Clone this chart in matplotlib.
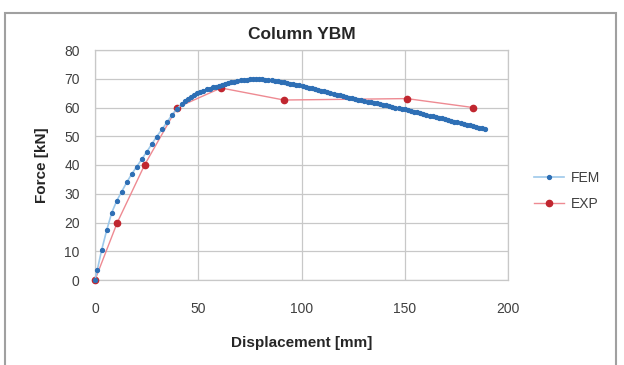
import matplotlib
matplotlib.use("Agg")
import matplotlib.pyplot as plt
from matplotlib.patches import Rectangle

plt.rcParams['font.family'] = ['Liberation Sans', 'DejaVu Sans']

title = "Column YBM"
x_label = "Displacement [mm]"
y_label = "Force [kN]"
x_ticks = [0, 50, 100, 150, 200]
y_ticks = [0, 10, 20, 30, 40, 50, 60, 70, 80]

fem_x = [0, 1.1, 3.2, 5.7, 8.1, 10.5, 12.9, 15.4, 17.8, 20.2, 22.7, 25.1, 27.5,
         29.9, 32.4, 34.8, 37.2, 39.6, 42.0,
         43.5, 45.0, 46.5, 48.0, 49.5, 51.0, 52.5, 54.0, 55.5, 57.0, 58.5, 60.0,
         61.5, 63.0, 64.5, 66.0, 67.5, 69.0, 70.5, 72.0, 73.5, 75.0, 76.5, 78.0,
         79.5, 81.0, 82.5, 84.0, 85.5, 87.0, 88.5, 90.0, 91.5, 93.0, 94.5, 96.0,
         97.5, 99.0, 100.5, 102.0, 103.5, 105.0, 106.5, 108.0, 109.5, 111.0,
         112.5, 114.0, 115.5, 117.0, 118.5, 120.0, 121.5, 123.0, 124.5, 126.0,
         127.5, 129.0, 130.5, 132.0, 133.5, 135.0, 136.5, 138.0, 139.5, 141.0,
         142.5, 144.0, 145.5, 147.0, 148.5, 150.0, 151.5, 153.0, 154.5, 156.0,
         157.5, 159.0, 160.5, 162.0, 163.5, 165.0, 166.5, 168.0, 169.5, 171.0,
         172.5, 174.0, 175.5, 177.0, 178.5, 180.0, 181.5, 183.0, 184.5, 186.0,
         187.5, 189.0]
fem_y = [0, 3.5, 10.4, 17.4, 23.4, 27.5, 30.7, 34.0, 36.9, 39.4, 42.1, 44.6, 47.3,
         49.9, 52.4, 54.8, 57.4, 59.5, 61.2,
         62.2, 63.1, 63.8, 64.4, 65.0, 65.5, 65.9, 66.3, 66.6, 67.0, 67.3, 67.6,
         67.9, 68.2, 68.5, 68.7, 69.0, 69.2, 69.4, 69.6, 69.7, 69.8, 69.9, 69.9,
         69.9, 69.8, 69.7, 69.6, 69.4, 69.2, 69.1, 68.9, 68.7, 68.5, 68.3, 68.1,
         67.9, 67.7, 67.5, 67.2, 66.9, 66.7, 66.4, 66.1, 65.8, 65.6,
         65.3, 65.0, 64.8, 64.5, 64.2, 64.0, 63.7, 63.4, 63.2, 62.9,
         62.7, 62.5, 62.3, 62.0, 61.8, 61.6, 61.4, 61.1, 60.9, 60.7,
         60.5, 60.2, 60.0, 59.8, 59.6, 59.4, 59.1, 58.8, 58.6, 58.3,
         58.0, 57.8, 57.5, 57.2, 57.0, 56.7, 56.4, 56.2, 55.9, 55.6,
         55.4, 55.1, 54.8, 54.6, 54.3, 54.0, 53.8, 53.5, 53.2, 53.0,
         52.7, 52.4]

exp_x = [0, 10.8, 24.0, 39.8, 61.0, 91.5, 151.0, 183.0]
exp_y = [0, 20.0, 40.0, 60.0, 66.8, 62.6, 63.1, 60.0]

fig = plt.figure(figsize=(6.24, 3.65), dpi=100)
fig.patches.append(Rectangle((5 / 624, -0.05), 611 / 624, 1 - 13 / 365 + 0.05,
                             transform=fig.transFigure, fill=False,
                             edgecolor='#a0a0a0', linewidth=1.5, zorder=0))

ax = fig.add_axes([95 / 624, 1 - 280 / 365, 413 / 624, 230 / 365])
ax.set_xlim(0, 200)
ax.set_ylim(0, 80)
ax.set_xticks(x_ticks)
ax.set_yticks(y_ticks)
ax.grid(True, color='#c8c8c8', linewidth=0.9)
ax.set_axisbelow(True)
for s in ax.spines.values():
    s.set_color('#c8c8c8')
    s.set_linewidth(0.9)
ax.tick_params(length=0, labelsize=10, colors='#404040')
ax.tick_params(axis='x', pad=16)
ax.tick_params(axis='y', pad=11)

ax.plot(exp_x, exp_y, color='#ee8a92', linewidth=1.0, marker='o',
        markersize=4.5, markerfacecolor='#c0262f', markeredgecolor='#c0262f',
        label='EXP', zorder=3, clip_on=False)
ax.plot(fem_x, fem_y, color='#9dc8ea', linewidth=1.2, marker='o',
        markersize=2.8, markerfacecolor='#2e6fb5', markeredgecolor='#2e6fb5',
        label='FEM', zorder=4, clip_on=False)

handles, labels = ax.get_legend_handles_labels()
fig.legend(handles[::-1], labels[::-1], loc='center left',
           bbox_to_anchor=(521 / 624, 1 - 191 / 365), frameon=False,
           fontsize=10, handlelength=2.2, handletextpad=0.5, labelspacing=0.9,
           labelcolor='#404040')

ax.set_title(title, fontsize=12.5, fontweight='bold', color='#262626', pad=8)
ax.set_xlabel(x_label, fontsize=11, fontweight='bold', color='#262626', labelpad=14)
ax.set_ylabel(y_label, fontsize=11, fontweight='bold', color='#262626', labelpad=11)

fig.savefig('out.png', dpi=100)
